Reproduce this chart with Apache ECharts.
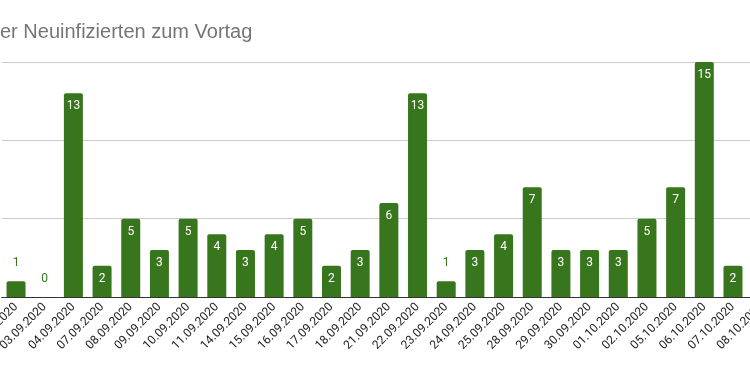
<!DOCTYPE html>
<html><head><meta charset="utf-8">
<script src="https://cdn.jsdelivr.net/npm/echarts@6/dist/echarts.min.js"></script>
<style>html,body{margin:0;padding:0;overflow:hidden;width:750px;height:371px;background:#fff}#c{position:absolute;left:0;top:0;width:800px;height:371px}</style>
</head><body><div id="c"></div>
<script>
const titleText = 'er Neuinfizierten zum Vortag';
const categories = ['02.09.2020','03.09.2020','04.09.2020','07.09.2020','08.09.2020','09.09.2020','10.09.2020','11.09.2020','14.09.2020','15.09.2020','16.09.2020','17.09.2020','18.09.2020','21.09.2020','22.09.2020','23.09.2020','24.09.2020','25.09.2020','28.09.2020','29.09.2020','30.09.2020','01.10.2020','02.10.2020','05.10.2020','06.10.2020','07.10.2020','08.10.2020'];
const values = [1,0,13,2,5,3,5,4,3,4,5,2,3,6,13,1,3,4,7,3,3,3,5,7,15,2,null];
const yTicks = [0,5,10,15];

const green = '#38761d';
const data = values.map(v => {
  if (v === null) return '-';
  if (v < 2) return {value: v, label: {position: 'top', distance: 12, color: green}};
  return v;
});
const chart = echarts.init(document.getElementById('c'), null, {renderer: 'canvas'});
chart.setOption({
  animation: false,
  title: {text: titleText, left: -5, top: 17, textStyle: {fontFamily: 'Liberation Sans, Arial', fontSize: 20, fontWeight: 'normal', color: '#757575'}},
  grid: {left: 1.7, right: 24, top: 62, bottom: 74, containLabel: false, outerBoundsMode: 'none'},
  xAxis: {type: 'category', data: categories,
    axisLine: {lineStyle: {color: '#333', width: 1}},
    axisTick: {show: false},
    axisLabel: {rotate: 45, interval: 0, margin: 8, fontFamily: 'Roboto', fontSize: 12, color: '#222'}},
  yAxis: {type: 'value', min: yTicks[0], max: yTicks[yTicks.length-1], interval: yTicks[1]-yTicks[0],
    axisLabel: {show: false}, axisLine: {show: false}, axisTick: {show: false},
    splitLine: {lineStyle: {color: '#cccccc', width: 1}}},
  series: [{type: 'bar', data: data, barWidth: 19,
    itemStyle: {color: green, borderRadius: [2,2,0,0]},
    label: {show: true, position: 'insideTop', distance: 7, color: '#ffffff', fontFamily: 'Roboto', fontSize: 12}}]
});
</script></body></html>
